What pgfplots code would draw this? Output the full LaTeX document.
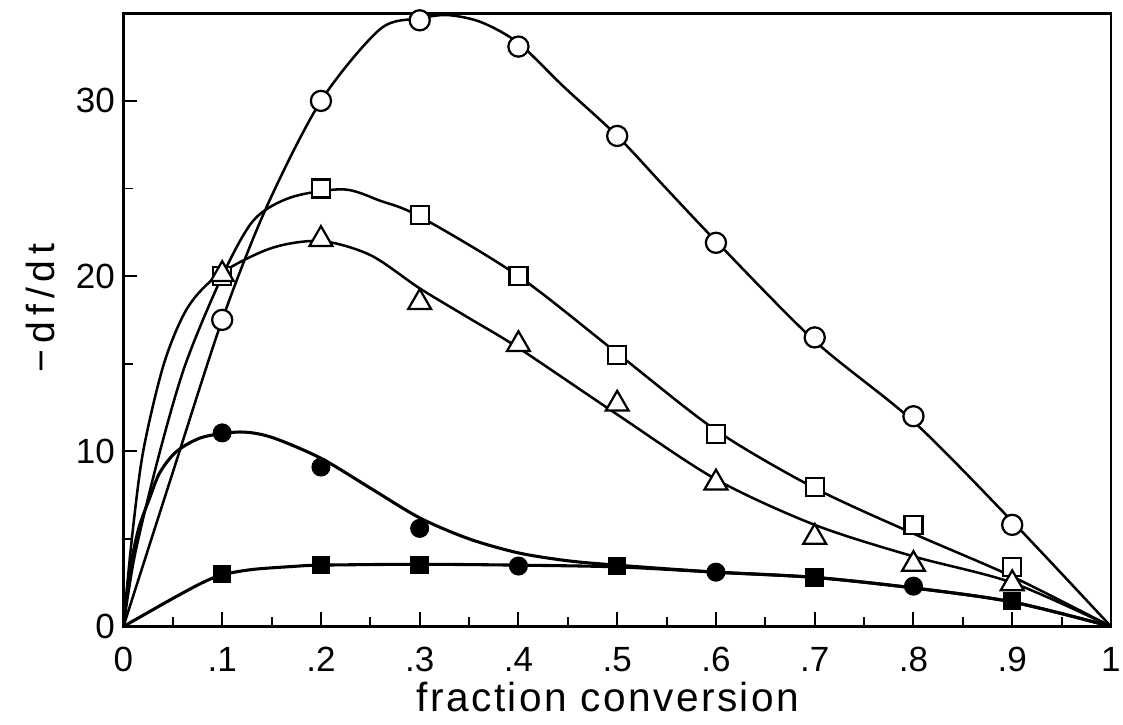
\documentclass[border=0pt]{standalone}
\usepackage{fontspec}
\setmainfont{Liberation Sans}
\newfontfamily\labfont[LetterSpace=6]{Liberation Sans}
\newfontfamily\ylabfont[LetterSpace=15]{Liberation Sans}
\usepackage{pgfplots}
\pgfplotsset{compat=1.18}

\begin{document}
\begin{tikzpicture}
\begin{axis}[
  scale only axis, width=352.7pt, height=219pt,
  xmin=0, xmax=1, ymin=0, ymax=35,
  clip=false,
  axis line style={line width=1pt},
  tick align=inside, tick pos=left,
  xtick={0,0.1,0.2,0.3,0.4,0.5,0.6,0.7,0.8,0.9,1},
  xticklabels={0,.1,.2,.3,.4,.5,.6,.7,.8,.9,1},
  minor xtick={0.05,0.15,0.25,0.35,0.45,0.55,0.65,0.75,0.85,0.95},
  ytick={0,10,20,30}, minor ytick={5,15,25},
  major tick length=5pt, minor tick length=3.5pt,
  every tick/.style={black, line width=0.7pt},
  tick label style={font=\fontsize{12.5}{15}\selectfont},
  /pgf/number format/assume math mode=true,
  xticklabel style={anchor=north, inner sep=0pt, yshift=-7.3pt},
  yticklabel style={anchor=east, inner sep=0pt, xshift=-2.9pt},
  xlabel={fraction conversion},
  ylabel={−df/dt},
  xlabel style={font=\labfont\fontsize{14.5}{16}\selectfont, inner sep=0pt, at={(rel axis cs:0.4906,-0.1392)}, anchor=base},
  ylabel style={font=\ylabfont\fontsize{14}{16}\selectfont, inner sep=0pt, at={(rel axis cs:-0.0835,0.5195)}, anchor=center},
]
% bounding frame matching reference margins
\path (rel axis cs:-0.125,-0.1604) rectangle (rel axis cs:1.0122,1.0217);

% ---- fitted curves ----
\addplot[black, line width=0.9pt, smooth] coordinates {
 (0,0) (0.05,8.8) (0.1,17.5) (0.145,23.95) (0.2,30) (0.26,34.1) (0.3,34.7) (0.328,34.9) (0.362,34.5) (0.4,33.3) (0.446,30.8) (0.5,28) (0.548,25.1) (0.6,22) (0.7,16.3) (0.8,11.7) (0.9,6) (1,0)};
\addplot[black, line width=0.9pt, smooth] coordinates {
 (0,0) (0.012,4.2) (0.037,10) (0.063,15) (0.1,20) (0.132,23.2) (0.17,24.5) (0.223,24.95) (0.26,24.3) (0.3,23.4) (0.4,20) (0.5,15.6) (0.6,11.2) (0.7,7.9) (0.8,5.3) (0.9,2.85) (1,0)};
\addplot[black, line width=0.9pt, smooth] coordinates {
 (0,0) (0.0085,5) (0.02,10) (0.041,15) (0.065,18.2) (0.097,20.1) (0.15,21.6) (0.2,22.0) (0.25,21.2) (0.3,19.3) (0.35,17.6) (0.4,15.9) (0.5,12.1) (0.6,8.4) (0.7,5.8) (0.8,4.0) (0.9,2.5) (1,0)};
\addplot[black, line width=1.1pt, smooth] coordinates {
 (0,0) (0.006,3) (0.015,5.5) (0.027,7.4) (0.037,8.8) (0.054,10.0) (0.08,10.8) (0.118,11.1) (0.15,10.8) (0.2,9.6) (0.25,7.9) (0.3,6.2) (0.35,5.0) (0.4,4.2) (0.45,3.75) (0.5,3.5) (0.6,3.1) (0.7,2.8) (0.8,2.2) (0.9,1.4) (1,0)};
\addplot[black, line width=1.1pt, smooth] coordinates {
 (0,0) (0.05,1.6) (0.08,2.5) (0.1,2.95) (0.13,3.25) (0.17,3.42) (0.2,3.5) (0.3,3.55) (0.4,3.5) (0.5,3.4) (0.6,3.1) (0.7,2.8) (0.8,2.2) (0.9,1.4) (1,0)};

% ---- data markers ----
\addplot[only marks, mark=*, mark size=3.6pt, mark options={fill=white, draw=black, line width=0.8pt}] coordinates {
 (0.1,17.5) (0.2,30) (0.3,34.6) (0.4,33.1) (0.5,28) (0.6,21.9) (0.7,16.5) (0.8,12) (0.9,5.8)};
\addplot[only marks, mark=square*, mark size=3.2pt, mark options={fill=white, draw=black, line width=0.8pt}] coordinates {
 (0.1,20) (0.2,25) (0.3,23.5) (0.4,20) (0.5,15.5) (0.6,11) (0.7,7.95) (0.8,5.8) (0.9,3.4)};
\addplot[only marks, mark=triangle*, mark size=4.7pt, mark options={fill=white, draw=black, line width=0.8pt}] coordinates {
 (0.1,20.1) (0.2,22.1) (0.3,18.5) (0.4,16.1) (0.5,12.7) (0.6,8.2) (0.7,5.1) (0.8,3.55) (0.9,2.45)};
\addplot[only marks, mark=*, mark size=3.2pt, mark options={fill=black, draw=black}] coordinates {
 (0.1,11.05) (0.2,9.1) (0.3,5.6) (0.4,3.45) (0.6,3.1) (0.8,2.3)};
\addplot[only marks, mark=square*, mark size=3.1pt, mark options={fill=black, draw=black}] coordinates {
 (0.1,3.0) (0.2,3.5) (0.3,3.5) (0.5,3.45) (0.7,2.8) (0.9,1.45)};
\end{axis}
\end{tikzpicture}
\end{document}
